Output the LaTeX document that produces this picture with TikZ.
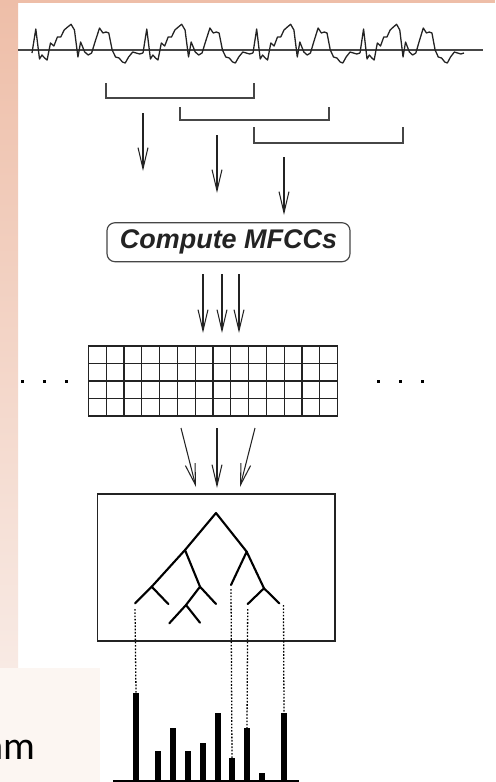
\documentclass[tikz,border=0pt]{standalone}
\usepackage{fontspec}
\newfontfamily\helv{Liberation Sans}
\newfontfamily\slidefont{Carlito}
\usetikzlibrary{arrows.meta}
\definecolor{peach}{RGB}{238,190,168}
\definecolor{peachlight}{RGB}{248,234,228}
\definecolor{panelpale}{RGB}{252,246,242}
\definecolor{ink}{RGB}{35,35,35}
\definecolor{grayline}{RGB}{70,70,70}
\tikzset{
  wave/.style={line width=1.1pt, ink, line join=round},
  bracketline/.style={line width=1.2pt, grayline},
  flow/.style={line width=0.9pt, ink, -{Straight Barb[length=18pt,width=8.5pt,line width=0.9pt]}},
  gridline/.style={line width=1pt, ink},
  treeline/.style={line width=1.8pt, black, line cap=round, line join=round},
  dotline/.style={line width=1.1pt, black, dash pattern=on 1.4pt off 1.4pt},
  bar/.style={fill=black},
  dotmark/.style={fill=black, minimum size=0.09cm, inner sep=0pt},
}
\begin{document}
\begin{tikzpicture}[x=0.03cm,y=-0.03cm]
\useasboundingbox (0,0) rectangle (495,782);
% background
\fill[white] (0,0) rectangle (495,782);
\shade[top color=peach, bottom color=peachlight] (0,0) rectangle (18,668);
\fill[peach] (0,0) rectangle (495,3);
\fill[panelpale] (0,668) rectangle (100,782);
% partial slide text
\begin{scope}
\clip (0,668) rectangle (100,782);
\node[anchor=base east, inner sep=0pt, font=\slidefont\fontsize{34}{40}\selectfont, text=black] (slidetext) at (36,759) {am};
\end{scope}
% waveform
\coordinate (wl) at (18,50);
\coordinate (wr) at (483,50);
\draw[line width=1pt, grayline] (wl) -- (wr);
\foreach \ox/\s in {32/1.0278, 143/1.0185, 253/0.9907, 360/0.963}{
\begin{scope}[shift={(\ox,0)}, xscale=\s]
\draw[wave] plot coordinates {(0,53) (3.7,29) (7.3,59) (9.7,55) (12.3,58) (14.7,60) (18,43) (21.3,46) (24.7,37) (28,37) (31.3,30) (34.7,27) (38,24.3) (41.3,30) (44.7,57) (47.3,42) (51.3,52) (54.7,55) (58,53) (61.3,42) (65.7,28) (69,33) (72,32) (74.7,33) (78,50) (81.3,57) (84.7,58) (88,62) (90.7,63) (94,57) (98,52) (101.3,53) (104.7,54) (108,53)};
\end{scope}}
% window brackets
\draw[bracketline] (106,83) -- (106,98) -- (254,98) -- (254,83);
\draw[bracketline] (180,107) -- (180,120) -- (329,120) -- (329,107);
\draw[bracketline] (254,127) -- (254,143) -- (403,143) -- (403,127);
% arrows to compute
\coordinate (a1s) at (143,113); \coordinate (a1e) at (143,171);
\coordinate (a2s) at (217,135); \coordinate (a2e) at (217,193);
\coordinate (a3s) at (284,157); \coordinate (a3e) at (284,215);
\draw[flow] (a1s) -- (a1e);
\draw[flow] (a2s) -- (a2e);
\draw[flow] (a3s) -- (a3e);
% compute box
\node[draw=grayline, line width=1pt, rounded corners=0.24cm, minimum width=7.29cm, minimum height=1.17cm, inner sep=0pt, text=ink,
  font=\helv\bfseries\itshape\fontsize{23}{27}\selectfont] (mfcc) at (228.5,242.2) {Compute MFCCs};
% arrows to grid
\coordinate (b1s) at (203,274); \coordinate (b1e) at (203,333);
\coordinate (b2s) at (222,274); \coordinate (b2e) at (222,333);
\coordinate (b3s) at (239,274); \coordinate (b3e) at (239,333);
\draw[flow] (b1s) -- (b1e);
\draw[flow] (b2s) -- (b2e);
\draw[flow] (b3s) -- (b3e);
% grid
\node[draw=ink, line width=1pt, minimum width=7.482cm, minimum height=2.1cm, inner sep=0pt] (grid) at (213,381) {};
\foreach \i in {1,...,13}{
  \draw[gridline] ({88.3+\i*17.814},346) -- ({88.3+\i*17.814},416);
}
\foreach \j in {1,2,3}{
  \draw[gridline] (88.3,{346+\j*17.5}) -- (337.7,{346+\j*17.5});
}
% ellipsis dots
\foreach \dx [count=\k] in {22,44,66}{\node[dotmark] (ld\k) at (\dx,381) {};}
\foreach \dx [count=\k] in {378,400,422}{\node[dotmark] (rd\k) at (\dx,381) {};}
% arrows to tree
\coordinate (c1s) at (181,428); \coordinate (c1e) at (196,487);
\coordinate (c2s) at (217,428); \coordinate (c2e) at (217,488);
\coordinate (c3s) at (255,428); \coordinate (c3e) at (240,487);
\draw[flow] (c1s) -- (c1e);
\draw[flow] (c2s) -- (c2e);
\draw[flow] (c3s) -- (c3e);
% tree box
\node[draw=ink, line width=1.1pt, minimum width=7.131cm, minimum height=4.41cm, inner sep=0pt] (treebox) at (216.2,567.5) {};
% tree
\coordinate (R) at (216,513);
\coordinate (A) at (185,550);
\coordinate (B) at (246.7,551.7);
\coordinate (AL) at (151.7,586.7);
\coordinate (AR) at (200,586.7);
\coordinate (AL1) at (135,603.3);
\coordinate (AL2) at (168.3,604);
\coordinate (ARR) at (216,604);
\coordinate (ARL) at (186,605);
\coordinate (ARL1) at (169.3,623.3);
\coordinate (ARL2) at (200,622.7);
\coordinate (BL) at (231,585);
\coordinate (BR) at (264,588.3);
\coordinate (BRL) at (247.7,604);
\coordinate (BRR) at (279.3,603.3);
\draw[treeline] (A) -- (R) -- (B);
\draw[treeline] (AL) -- (A) -- (AR);
\draw[treeline] (AL1) -- (AL) -- (AL2);
\draw[treeline] (ARL) -- (AR) -- (ARR);
\draw[treeline] (ARL1) -- (ARL) -- (ARL2);
\draw[treeline] (BL) -- (B) -- (BR);
\draw[treeline] (BRL) -- (BR) -- (BRR);
% dotted link starts
\coordinate (d1) at (135,609);
\coordinate (d2) at (231,589);
\coordinate (d3) at (247.7,609);
\coordinate (d4) at (283.5,605);
% histogram
\coordinate (hl) at (113,781); \coordinate (hr) at (299,781);
\draw[line width=1.3pt, black] (hl) -- (hr);
\foreach \bx/\by [count=\k] in {136/692.7,158/750.7,173/728.3,188/750.7,203/743.3,218/713.3,232/758.3,247/728.3,262/772.7,284/713.3}{
  \fill[bar] ({\bx-2.6},\by) rectangle ({\bx+2.6},781);
  \coordinate (h\k) at (\bx,\by);
}
% dotted links
\draw[dotline] (d1) -- (h1);
\draw[dotline] (d2) -- (h7);
\draw[dotline] (d3) -- (h8);
\draw[dotline] (d4) -- (h10);
\end{tikzpicture}
\end{document}
